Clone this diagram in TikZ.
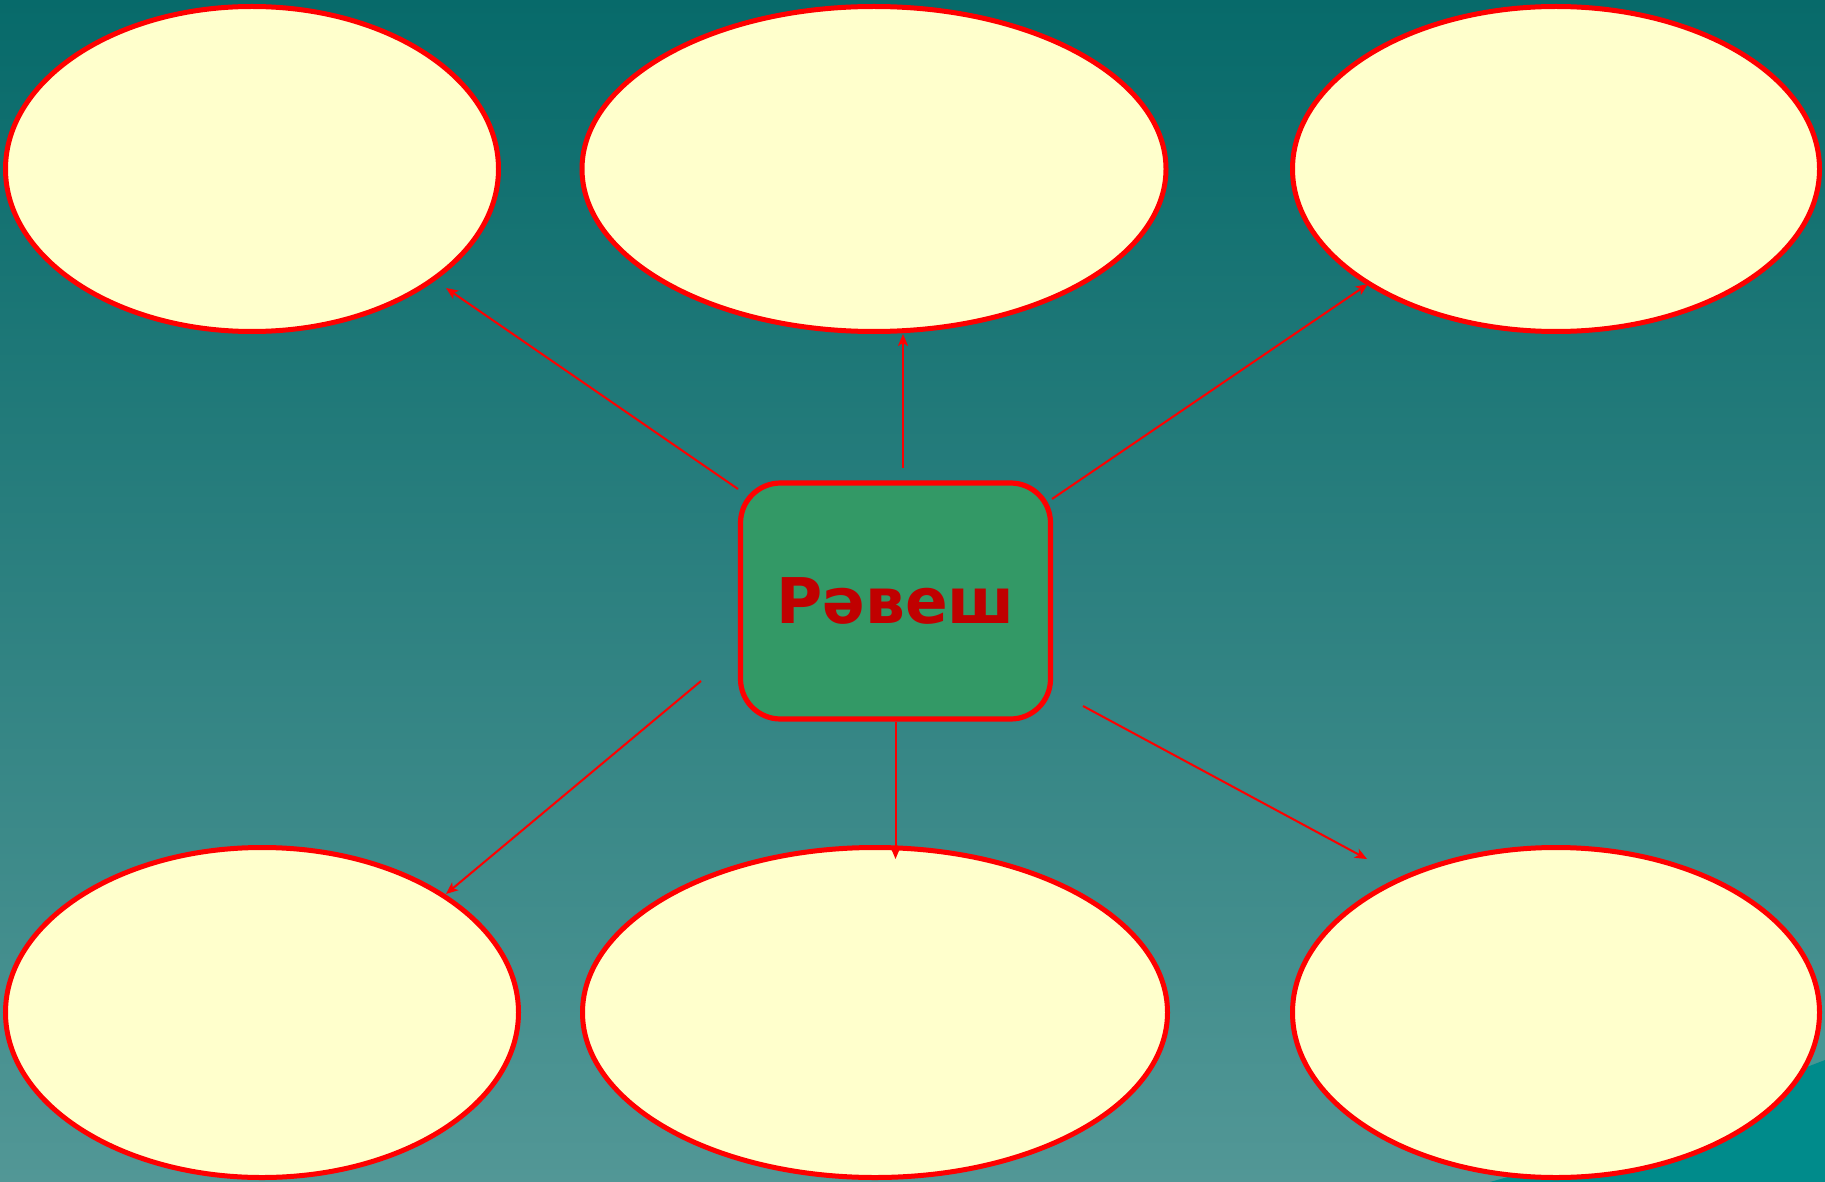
\documentclass[tikz,border=0pt]{standalone}
\usepackage{fontspec}
\newfontfamily\djv{DejaVu Sans}
\usetikzlibrary{shapes.geometric,arrows.meta}
\definecolor{bgtop}{RGB}{7,106,106}
\definecolor{bgbot}{RGB}{82,151,150}
\definecolor{oval}{RGB}{255,255,204}
\definecolor{boxgreen}{RGB}{51,153,102}
\definecolor{txtred}{RGB}{192,0,0}
\definecolor{deepteal}{RGB}{0,139,139}
\definecolor{midteal}{RGB}{70,150,148}
\begin{document}
\begin{tikzpicture}[x=0.5pt,y=-0.5pt,
  oval/.style={ellipse,draw=red,fill=oval,line width=2.5pt,inner sep=0pt},
  centerbox/.style={rectangle,rounded corners=20pt,draw=red,fill=boxgreen,line width=2.6pt,
     minimum width=155pt,minimum height=118pt,inner sep=0pt,
     font=\djv\bfseries\fontsize{31.5}{36}\selectfont,text=txtred},
  link/.style={draw=red,line width=1pt,-{Stealth[length=6pt,width=5pt,inset=1.5pt]}}]
\useasboundingbox (0,0) rectangle (1825,1182);
\shade[top color=bgtop,bottom color=bgbot] (0,0) rectangle (1825,1182);
% bottom-right corner decoration
\fill[midteal] (1560,1182) -- (1700,1110) -- (1825,1000) -- (1825,1182) -- cycle;
\fill[deepteal] (1490,1182) -- (1640,1140) -- (1760,1085) -- (1825,1060) -- (1825,1182) -- cycle;
% ovals
\node[oval,minimum width=246.5pt,minimum height=162.5pt] (tl) at (252,169) {};
\node[oval,minimum width=292pt,minimum height=162.5pt] (tm) at (874,169) {};
\node[oval,minimum width=263.5pt,minimum height=162.5pt] (tr) at (1556,169) {};
\node[oval,minimum width=256.5pt,minimum height=165pt] (bl) at (262,1012.5) {};
\node[oval,minimum width=292.5pt,minimum height=165pt] (bm) at (875,1012.5) {};
\node[oval,minimum width=263.5pt,minimum height=165pt] (br) at (1556,1012.5) {};
% center
\node[centerbox] (c) at (895.5,601) {Рәвеш};
% connector ends
\coordinate (s1) at (738,489);   \coordinate (e1) at (446,288);
\coordinate (s2) at (903,468);   \coordinate (e2) at (903,334);
\coordinate (s3) at (1052,499);  \coordinate (e3) at (1368,284);
\coordinate (s4) at (701,681);   \coordinate (e4) at (446,894);
\coordinate (s5) at (895.5,722); \coordinate (e5) at (895.5,859);
\coordinate (s6) at (1083,706);  \coordinate (e6) at (1367,859);
\draw[link] (s1) -- (e1);
\draw[link] (s2) -- (e2);
\draw[link] (s3) -- (e3);
\draw[link] (s4) -- (e4);
\draw[link] (s5) -- (e5);
\draw[link] (s6) -- (e6);
\end{tikzpicture}
\end{document}
